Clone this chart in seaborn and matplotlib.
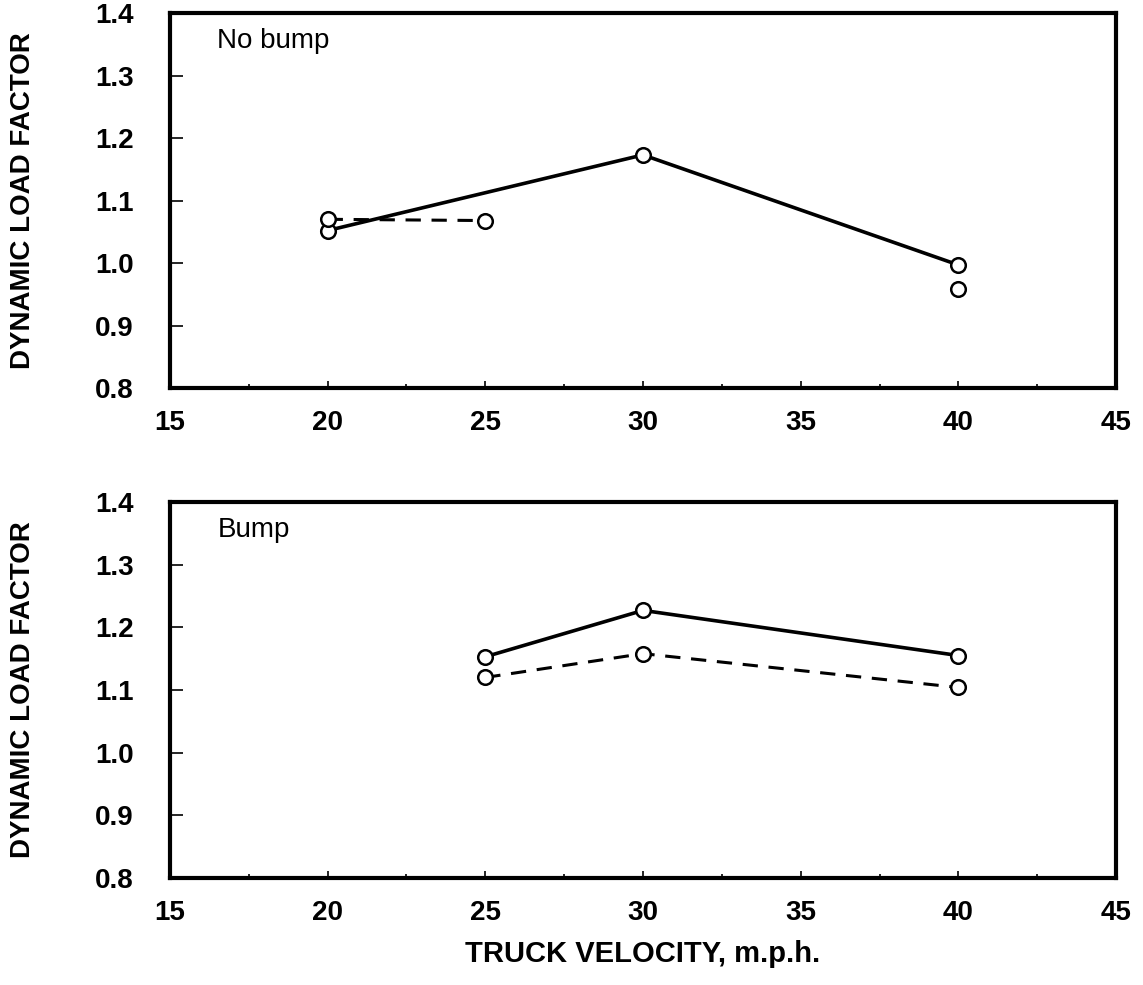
import matplotlib
matplotlib.use("Agg")
import matplotlib.pyplot as plt
import seaborn as sns
from matplotlib.ticker import MultipleLocator

sns.set_theme(style="white")
plt.rcParams['font.family'] = ['Liberation Sans', 'DejaVu Sans']
plt.rcParams['text.color'] = 'black'
plt.rcParams['axes.labelcolor'] = 'black'

# Top panel: No bump
nb_solid_x = [20, 30, 40]
nb_solid_y = [1.052, 1.173, 0.997]
nb_dash_x = [20, 25]
nb_dash_y = [1.070, 1.068]
nb_extra_x = [40]
nb_extra_y = [0.958]

# Bottom panel: Bump
b_solid_x = [25, 30, 40]
b_solid_y = [1.153, 1.227, 1.155]
b_dash_x = [25, 30, 40]
b_dash_y = [1.120, 1.158, 1.104]

panel_titles = ["No bump", "Bump"]
x_ticks = [15, 20, 25, 30, 35, 40, 45]
y_ticks = [0.8, 0.9, 1.0, 1.1, 1.2, 1.3, 1.4]

fig = plt.figure(figsize=(11.43, 9.85), dpi=100)
ax1 = fig.add_axes([0.1487, 0.606, 0.9764 - 0.1487, 0.9868 - 0.606])
ax2 = fig.add_axes([0.1487, 0.1086, 0.9764 - 0.1487, 0.4904 - 0.1086])

mk = dict(marker='o', markersize=10.5, markerfacecolor='white',
          markeredgecolor='black', markeredgewidth=1.8)

def draw(ax, sx, sy, dx, dy, ex=None, ey=None):
    sns.lineplot(x=sx, y=sy, ax=ax, color='black', lw=2.6, **mk)
    sns.lineplot(x=dx, y=dy, ax=ax, color='black', lw=2.2,
                 linestyle=(0, (5, 3.5)), **mk)
    if ex is not None:
        ax.plot(ex, ey, linestyle='none', **mk)

draw(ax1, nb_solid_x, nb_solid_y, nb_dash_x, nb_dash_y, nb_extra_x, nb_extra_y)
draw(ax2, b_solid_x, b_solid_y, b_dash_x, b_dash_y)

for ax, title in zip([ax1, ax2], panel_titles):
    ax.set_xlim(15, 45)
    ax.set_ylim(0.8, 1.4)
    ax.set_xticks(x_ticks)
    ax.set_yticks(y_ticks)
    ax.set_xticklabels([str(v) for v in x_ticks])
    ax.set_yticklabels([f"{v:.1f}" for v in y_ticks])
    ax.xaxis.set_minor_locator(MultipleLocator(2.5))
    for s in ax.spines.values():
        s.set_linewidth(3.0)
        s.set_color('black')
    ax.tick_params(axis='both', which='both', direction='in', colors='black',
                   labelsize=20, width=1.2)
    ax.tick_params(axis='y', which='major', length=9, pad=26, left=True)
    ax.tick_params(axis='x', which='major', length=5, pad=16, bottom=True)
    ax.tick_params(axis='x', which='minor', length=3, bottom=True)
    for lab in ax.get_xticklabels() + ax.get_yticklabels():
        lab.set_fontweight('bold')
    ax.set_ylabel("DYNAMIC LOAD FACTOR", fontsize=20, fontweight='bold')
    ax.yaxis.set_label_coords(-0.142, 0.5)
    ax.text(0.05, 0.925, title, transform=ax.transAxes, fontsize=20,
            va='center', ha='left')
    ax.grid(False)

ax2.set_xlabel("TRUCK VELOCITY, m.p.h.", fontsize=21, fontweight='bold')
ax2.xaxis.set_label_coords(0.5, -0.165)

fig.savefig("out.png", dpi=100)
